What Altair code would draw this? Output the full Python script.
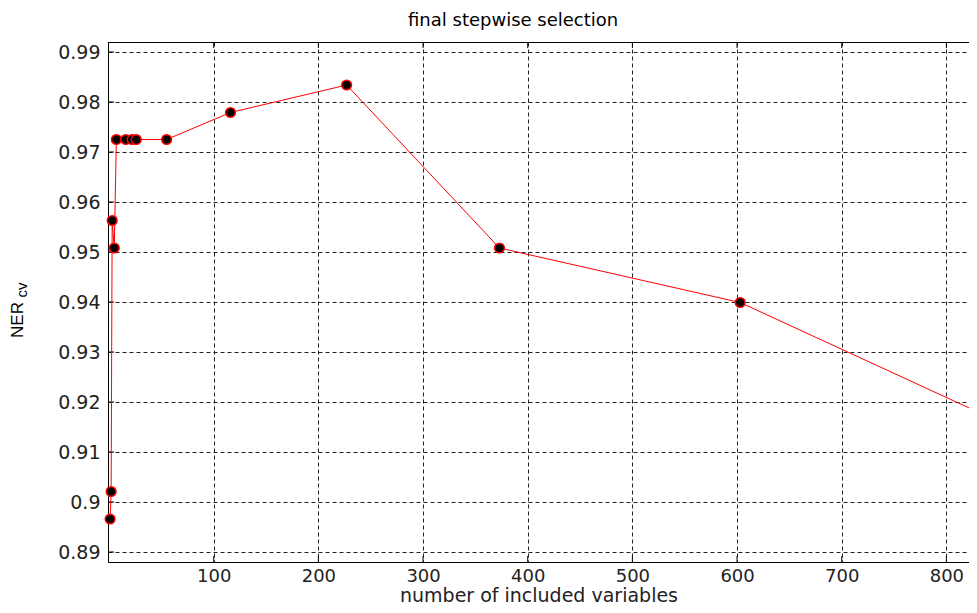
import altair as alt
import pandas as pd

# ---- data ----
n_vars = [1, 2, 3, 5, 7, 16, 22, 26, 55, 116, 227, 373, 603, 827]
ner_cv = [0.8966, 0.9021, 0.9563, 0.9508, 0.9725, 0.9725, 0.9725, 0.9725,
          0.9725, 0.9779, 0.9834, 0.9508, 0.9399, 0.9183]
x_ticks = [100, 200, 300, 400, 500, 600, 700, 800]
y_ticks = [0.89, 0.90, 0.91, 0.92, 0.93, 0.94, 0.95, 0.96, 0.97, 0.98, 0.99]
title_text = "final stepwise selection"
x_title = "number of included variables"
y_title_main = "NER"
y_title_sub = "cv"

df = pd.DataFrame({"n": n_vars, "ner": ner_cv})

W, H = 861, 520
FONT = "DejaVu Sans"

xscale = alt.Scale(domain=[-1, 821.6], nice=False, zero=False)
yscale = alt.Scale(domain=[0.888, 0.992], nice=False, zero=False)

x_axis = alt.Axis(values=x_ticks, title=x_title, grid=True, gridDash=[4, 3],
                  gridColor="#222222", gridWidth=1, gridOpacity=1, ticks=False,
                  domain=True, domainColor="black", domainWidth=1,
                  labelFont=FONT, labelFontSize=18, labelColor="#222222", labelPadding=5,
                  titleFont=FONT, titleFontSize=19, titleFontWeight="normal",
                  titleColor="#222222", titleY=33, titleBaseline="middle")
y_axis = alt.Axis(values=y_ticks, title=None, format=".2~f", grid=True, gridDash=[4, 3],
                  gridColor="#222222", gridWidth=1, gridOpacity=1, ticks=False,
                  domain=True, domainColor="black", domainWidth=1,
                  labelFont=FONT, labelFontSize=19, labelColor="#222222", labelPadding=8)

x_enc = alt.X("n:Q", scale=xscale, axis=x_axis)
y_enc = alt.Y("ner:Q", scale=yscale, axis=y_axis)

line = alt.Chart(df).mark_line(color="#ff0000", strokeWidth=1, clip=False).encode(x=x_enc, y=y_enc)
pts = alt.Chart(df).mark_circle(color="black", stroke="#ff0000", strokeWidth=1.5,
                                size=95, opacity=1, clip=False).encode(x=x_enc, y=y_enc)

# inner tick marks (MATLAB style) and top frame line
df_yt = pd.DataFrame({"ner": y_ticks})
df_xt = pd.DataFrame({"n": x_ticks})
ytl = alt.Chart(df_yt).mark_rule(color="black", strokeWidth=1).encode(
    y=y_enc, x=alt.value(0), x2=alt.value(6))
xtb = alt.Chart(df_xt).mark_rule(color="black", strokeWidth=1).encode(
    x=x_enc, y=alt.value(H - 6), y2=alt.value(H))
xtt = alt.Chart(df_xt).mark_rule(color="black", strokeWidth=1).encode(
    x=x_enc, y=alt.value(0), y2=alt.value(6))
top = alt.Chart(pd.DataFrame({"t": [0]})).mark_rule(color="black", strokeWidth=1).encode(
    x=alt.value(0), x2=alt.value(W), y=alt.value(0.5))

# y title: NER with subscript cv
t_main = alt.Chart(pd.DataFrame({"t": [y_title_main]})).mark_text(
    angle=270, font="Liberation Sans", fontSize=17, align="center", baseline="middle",
    color="black").encode(text="t:N", x=alt.value(-90), y=alt.value(278))
t_sub = alt.Chart(pd.DataFrame({"t": [y_title_sub]})).mark_text(
    angle=270, font="Liberation Sans", fontSize=15, align="center", baseline="middle",
    color="black").encode(text="t:N", x=alt.value(-86), y=alt.value(248))

chart = alt.layer(ytl, xtb, xtt, top, line, pts, t_main, t_sub).properties(
    width=W, height=H,
    title=alt.TitleParams(title_text, font=FONT, fontSize=18, fontWeight="normal",
                          color="black", anchor="start", frame="group", dx=300, offset=12),
    autosize=alt.AutoSizeParams(type="none"),
    padding={"left": 100, "top": 34, "right": 0, "bottom": 43},
).configure_view(stroke=None).configure(background="white")

chart.save("out.html", embed_options={"renderer": "svg", "actions": False})
